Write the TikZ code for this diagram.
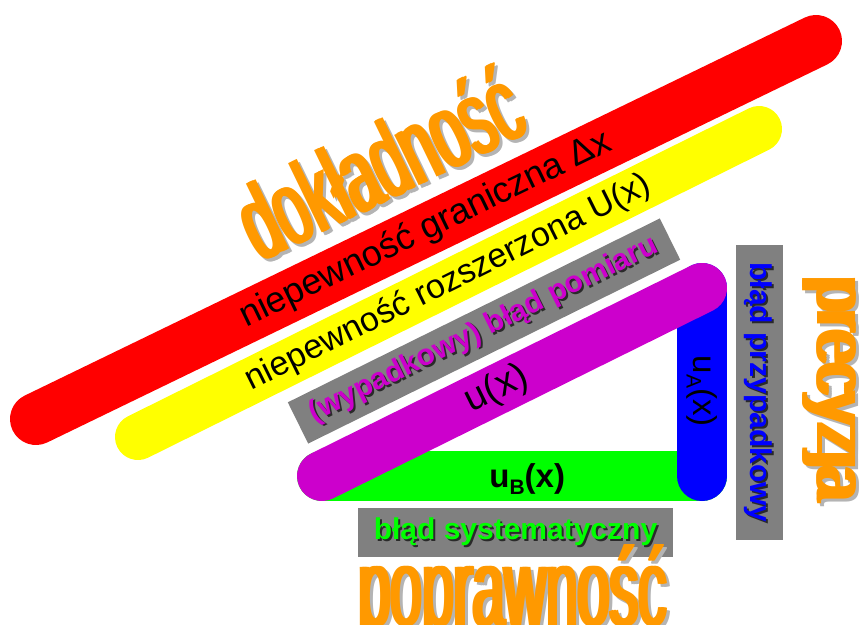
\documentclass[tikz,border=0pt]{standalone}
\usepackage{fontspec}
\setmainfont{Liberation Sans}
\newfontfamily\heavyfont{DejaVu Sans}

\definecolor{barred}{HTML}{FF0000}
\definecolor{baryellow}{HTML}{FFFF00}
\definecolor{bargreen}{HTML}{00FF00}
\definecolor{barblue}{HTML}{0000FF}
\definecolor{barpurple}{HTML}{CC00CC}
\definecolor{boxgrey}{HTML}{808080}
\definecolor{wordorange}{HTML}{FF9900}
\definecolor{wordshadow}{HTML}{B4B4B4}
\definecolor{textshadow}{HTML}{2A2A2A}

\tikzset{
  bar/.style={line width=#1, line cap=round},
  bartext/.style={text=black, inner sep=0pt, font=\fontsize{36}{36}\selectfont},
  bigword/.style={text=wordorange, inner sep=0pt, font=\heavyfont},
  greybox/.style={fill=boxgrey, inner sep=0pt, font=\bfseries\fontsize{30}{30}\selectfont},
}

% shadow behind a text: x offset, y offset, text
\newcommand\dropped[3]{\makebox[0pt][l]{\kern#1\raisebox{#2}{\textcolor{textshadow}{#3}}}#3}
% heavier strokes: the word printed a few times side by side
\newcommand\thick[1]{\makebox[0pt][l]{#1}\makebox[0pt][l]{\kern3pt#1}\makebox[0pt][l]{\kern6pt#1}\kern9pt#1}
% big orange word with its grey shadow: name, options, x, y, text
\newcommand\bigword[5]{%
  \node[bigword, #2, text=wordshadow] (#1-sh) at (#3+3,#4+3) {\thick{#5}};
  \node[bigword, #2] (#1) at (#3,#4) {\thick{#5}};}

\begin{document}
\begin{tikzpicture}[x=1pt, y=-1pt]
\useasboundingbox (0,0) rectangle (862,624);

\coordinate (redL) at (36,419);
\coordinate (redR) at (816,41);
\coordinate (yelL) at (138,437);
\coordinate (yelR) at (759,129);
\coordinate (tri1) at (322,476);
\coordinate (tri2) at (702,476);
\coordinate (tri3) at (702,288);

\draw[bar=52pt, barred] (redL) -- (redR)
    node[midway, sloped, bartext] (granica) {niepewność graniczna Δx};
\draw[bar=46pt, baryellow] (yelL) -- (yelR)
    node[midway, sloped, bartext, font=\fontsize{34}{34}\selectfont] (rozsz) {niepewność rozszerzona U(x)};

\bigword{dokl}{anchor=base, rotate=25.9, xscale=0.56, font=\fontsize{106}{106}\selectfont}{396}{197}{dokładność}

% trojkat
\draw[bar=50pt, bargreen] (tri1) -- (tri2)
    node[pos=0.54, bartext, font=\bfseries\fontsize{33}{33}\selectfont, yshift=-3pt] (uB) {u\raisebox{-7pt}{\fontsize{21}{21}\selectfont B}(x)};
\draw[bar=50pt, barblue] (tri3) -- (tri2)
    node[pos=0.55, bartext, rotate=-90, font=\fontsize{33}{33}\selectfont] (uA) {u\raisebox{-7pt}{\fontsize{21}{21}\selectfont A}(x)};
\draw[bar=50pt, barpurple] (tri1) -- (tri3)
    node[pos=0.46, sloped, bartext, font=\fontsize{38}{38}\selectfont] (ux) {u(x)};

\node[greybox, rotate=26.3, minimum width=415pt, minimum height=46pt, text=barpurple] (wyp) at (484,331)
    {\dropped{1pt}{-2.5pt}{(wypadkowy) błąd pomiaru}};
\node[greybox, rotate=-90, minimum width=295pt, minimum height=47pt, text=barblue] (przyp) at (759.5,392.5)
    {\dropped{2pt}{2pt}{błąd przypadkowy}};
\node[greybox, minimum width=315pt, minimum height=49pt, text=bargreen] (syst) at (515.5,532.5)
    {\dropped{2pt}{-2pt}{błąd systematyczny}};

\bigword{prec}{anchor=base, rotate=-90, xscale=0.83, font=\fontsize{72}{72}\selectfont}{817}{389}{precyzja}
\bigword{popr}{anchor=base, xscale=0.52, font=\fontsize{110}{110}\selectfont}{513}{625}{poprawność}

\end{tikzpicture}
\end{document}
